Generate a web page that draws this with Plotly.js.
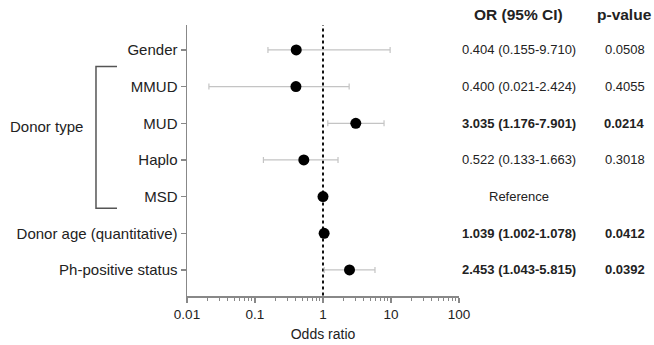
<!DOCTYPE html>
<html>
<head>
<meta charset="utf-8">
<script src="https://cdn.plot.ly/plotly-3.0.1.min.js"></script>
<style>html,body{margin:0;padding:0;background:#fff;}#chart{width:654px;height:345px;}</style>
</head>
<body>
<div id="chart"></div>
<script>
// ---- data ----
var labels = ["Gender", "MMUD", "MUD", "Haplo", "MSD", "Donor age (quantitative)", "Ph-positive status"];
var oddsRatio = [0.404, 0.400, 3.035, 0.522, 1, 1.039, 2.453];
var ciLower = [0.155, 0.021, 1.176, 0.133, null, 1.002, 1.043];
var ciUpper = [9.710, 2.424, 7.901, 1.663, null, 1.078, 5.815];
var orText = ["0.404 (0.155-9.710)", "0.400 (0.021-2.424)", "3.035 (1.176-7.901)", "0.522 (0.133-1.663)", "Reference", "1.039 (1.002-1.078)", "2.453 (1.043-5.815)"];
var pText = ["0.0508", "0.4055", "0.0214", "0.3018", "", "0.0412", "0.0392"];
var significant = [false, false, true, false, false, true, true];
var headers = ["OR (95% CI)", "p-value"];
var groupLabel = "Donor type";
var groupFirst = 1, groupLast = 4;
var xTickVals = [0.01, 0.1, 1, 10, 100];
var xTickText = ["0.01", "0.1", "1", "10", "100"];

// ---- build ----
var rows = labels.map(function(_, i){ return i; });
var errPlus = oddsRatio.map(function(v, i){ return ciUpper[i] == null ? NaN : ciUpper[i] - v; });
var errMinus = oddsRatio.map(function(v, i){ return ciLower[i] == null ? NaN : v - ciLower[i]; });

var minorVals = [];
for (var d = 0; d < xTickVals.length - 1; d++) {
  for (var k = 2; k <= 9; k++) minorVals.push(xTickVals[d] * k);
}

var font = "Liberation Sans, Arial, Helvetica, sans-serif";
var textColor = "#222";

var traces = [
  {
    x: [1, 1], y: [-0.75, 6.72], mode: "lines", type: "scatter",
    line: {color: "#111", width: 2, dash: "dot"}, cliponaxis: false, hoverinfo: "skip", showlegend: false
  },
  {
    x: oddsRatio, y: rows, mode: "markers", type: "scatter",
    marker: {color: "#000", size: 11},
    error_x: {type: "data", symmetric: false, array: errPlus, arrayminus: errMinus,
              color: "#c4c4c4", thickness: 1.2, width: 3},
    cliponaxis: false, showlegend: false
  }
];

var colX = [1.2206, 1.609];
var annotations = [];
function bold(s, b){ return b ? "<b>" + s + "</b>" : s; }
for (var i = 0; i < labels.length; i++) {
  annotations.push({xref: "paper", yref: "y", x: colX[0], y: i, text: bold(orText[i], significant[i]),
    showarrow: false, xanchor: "center", yanchor: "middle", font: {family: font, size: 13, color: textColor}});
  if (pText[i]) annotations.push({xref: "paper", yref: "y", x: colX[1], y: i, text: bold(pText[i], significant[i]),
    showarrow: false, xanchor: "center", yanchor: "middle", font: {family: font, size: 13, color: textColor}});
}
annotations.push({xref: "paper", yref: "paper", x: colX[0] - 0.003, y: 1.037, text: "<b>" + headers[0] + "</b>",
  showarrow: false, xanchor: "center", yanchor: "middle", font: {family: font, size: 15.5, color: textColor}});
annotations.push({xref: "paper", yref: "paper", x: colX[1] - 0.002, y: 1.037, text: "<b>" + headers[1] + "</b>",
  showarrow: false, xanchor: "center", yanchor: "middle", font: {family: font, size: 15.5, color: textColor}});
annotations.push({xref: "paper", yref: "y", x: -0.375, y: (groupFirst + groupLast) / 2 - 0.4, text: groupLabel,
  showarrow: false, xanchor: "right", yanchor: "middle", font: {family: font, size: 15, color: textColor}});

var bx = -0.3346, bxEnd = -0.2574, byTop = groupFirst - 0.545, byBot = groupLast + 0.32;
var shapes = [
  {type: "path", xref: "paper", yref: "y",
   path: "M " + bxEnd + " " + byTop + " L " + bx + " " + byTop + " L " + bx + " " + byBot + " L " + bxEnd + " " + byBot,
   line: {color: "#555", width: 1.5}}
];

var layout = {
  width: 654, height: 345,
  margin: {l: 187, r: 195, t: 25, b: 49, pad: 0},
  paper_bgcolor: "#fff", plot_bgcolor: "#fff",
  font: {family: font, color: textColor},
  showlegend: false,
  xaxis: {
    type: "log", range: [-2, 2], tickmode: "array", tickvals: xTickVals, ticktext: xTickText,
    showgrid: false, zeroline: false, showline: true, linecolor: "#888", linewidth: 1.5,
    ticks: "outside", ticklen: 5, tickcolor: "#888", tickwidth: 1.2,
    tickfont: {family: font, size: 13.5, color: textColor},
    minor: {tickmode: "array", tickvals: minorVals, ticks: "outside", ticklen: 3, tickcolor: "#888", tickwidth: 1, showgrid: false},
    title: {text: "Odds ratio", font: {family: font, size: 14, color: textColor}, standoff: 8}
  },
  yaxis: {
    range: [6.71, -0.68], tickmode: "array", tickvals: rows, ticktext: labels,
    showgrid: false, zeroline: false, showline: true, linecolor: "#888", linewidth: 1.5,
    ticks: "outside", ticklen: 5, tickcolor: "#888", tickwidth: 1.2,
    tickfont: {family: font, size: 15, color: textColor}
  },
  annotations: annotations,
  shapes: shapes
};

Plotly.newPlot("chart", traces, layout, {displayModeBar: false, staticPlot: true});
</script>
</body>
</html>
